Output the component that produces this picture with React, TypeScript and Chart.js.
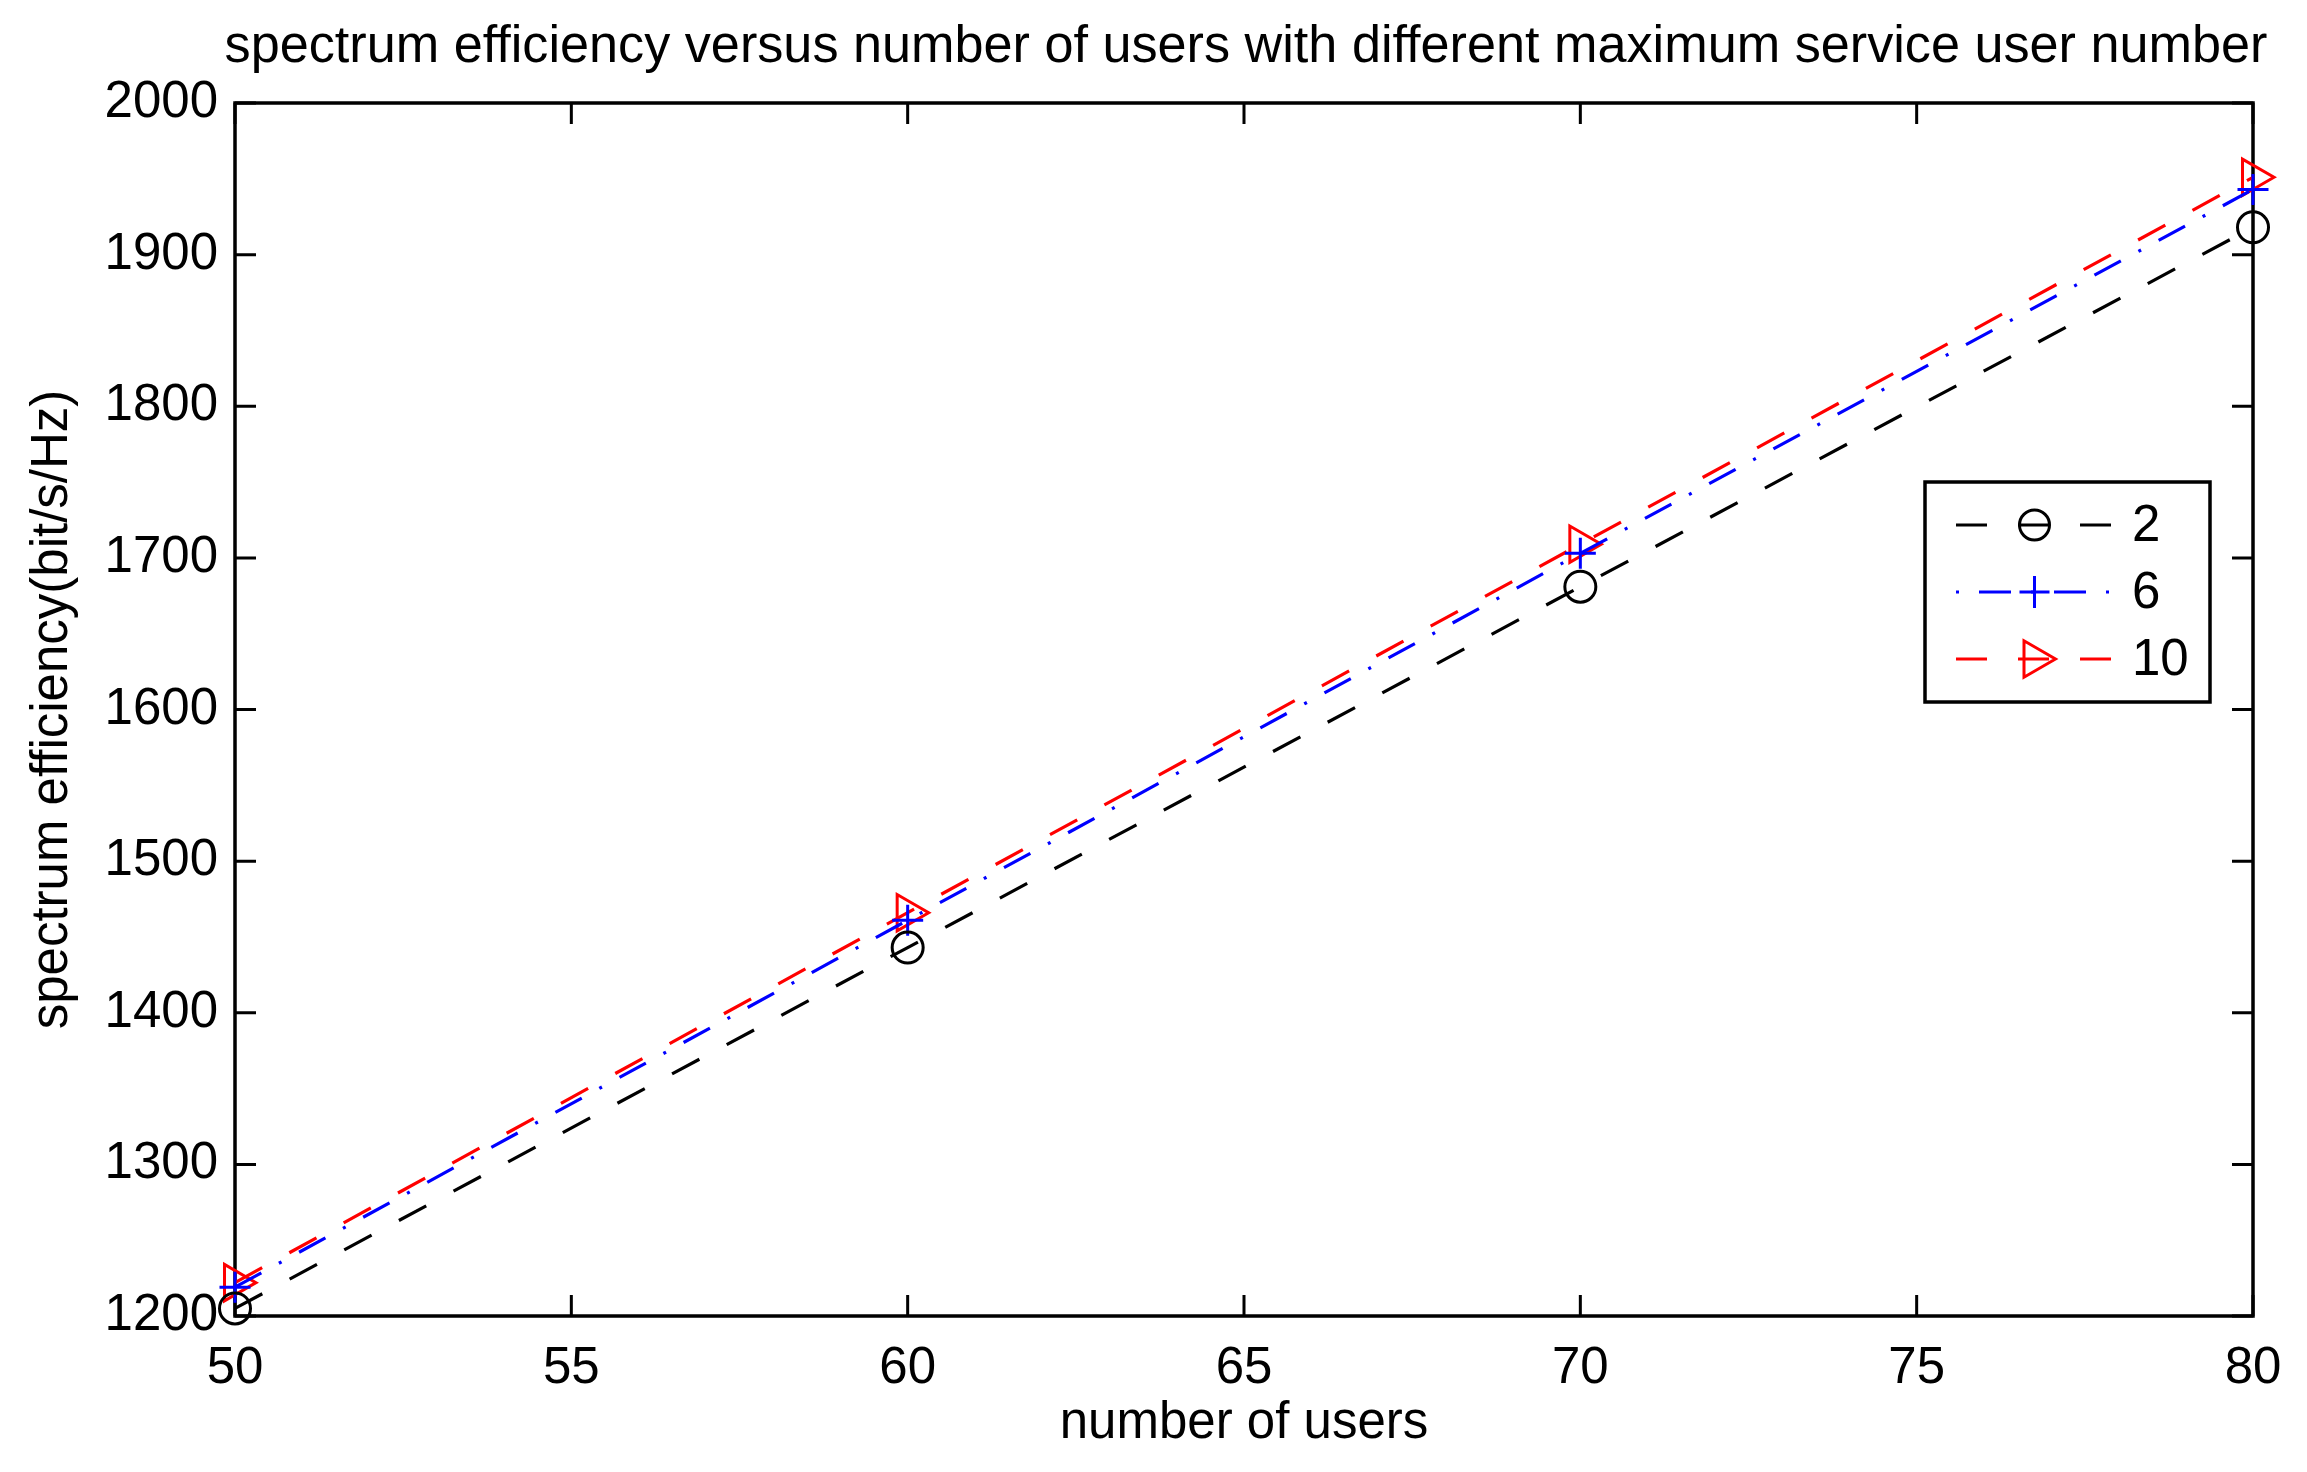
import React, { useEffect, useRef } from 'react';
import { Chart, registerables } from 'chart.js';

Chart.register(...registerables);

const users = [50, 60, 70, 80];
const seriesLabels = ['2', '6', '10'];
const se2 = [1205, 1443, 1681, 1918];
const se6 = [1219, 1461, 1703, 1943];
const se10 = [1222, 1466, 1709, 1951];
const xTicks = [50, 55, 60, 65, 70, 75, 80];
const yTicks = [1200, 1300, 1400, 1500, 1600, 1700, 1800, 1900, 2000];

const titleText = 'spectrum efficiency versus number of users with different maximum service user number';
const xTitle = 'number of users';
const yTitle = 'spectrum efficiency(bit/s/Hz)';

const FONT = '"Liberation Sans", Arial, Helvetica, sans-serif';
const W = 2307;
const H = 1472;

type Style = { color: string; dash: number[]; legendDash: number[]; marker: string };
const styles: Style[] = [
  { color: '#000000', dash: [31, 31], legendDash: [31, 31], marker: 'circle' },
  { color: '#0000ff', dash: [30, 20, 3, 20], legendDash: [3, 20, 32, 20], marker: 'cross' },
  { color: '#ff0000', dash: [31, 31], legendDash: [31, 31], marker: 'triangle' },
];

function drawMarker(ctx: CanvasRenderingContext2D, kind: string, x: number, y: number) {
  ctx.beginPath();
  if (kind === 'circle') {
    ctx.arc(x, y, 15, 0, Math.PI * 2);
  } else if (kind === 'cross') {
    ctx.moveTo(x - 15, y);
    ctx.lineTo(x + 15, y);
    ctx.moveTo(x, y - 16);
    ctx.lineTo(x, y + 16);
  } else {
    const r = 21;
    for (let i = 0; i < 3; i++) {
      const a = Math.PI / 2 + (i * 2 * Math.PI) / 3;
      const px = x + Math.sin(a) * r;
      const py = y - Math.cos(a) * r;
      if (i === 0) ctx.moveTo(px, py);
      else ctx.lineTo(px, py);
    }
    ctx.closePath();
  }
  ctx.stroke();
}

const titlePlugin = {
  id: 'matlabTitle',
  afterDraw(chart: any) {
    const { ctx, chartArea } = chart;
    ctx.save();
    ctx.fillStyle = '#000';
    ctx.font = `52.2px ${FONT}`;
    ctx.textAlign = 'center';
    ctx.textBaseline = 'middle';
    ctx.fillText(titleText, (chartArea.left + chartArea.right) / 2 + 2, 48);
    ctx.restore();
  },
};

const boxPlugin = {
  id: 'matlabBox',
  beforeDatasetsDraw(chart: any) {
    const { ctx, chartArea } = chart;
    const { left, right, top, bottom } = chartArea;
    const xs = chart.scales.x;
    const ys = chart.scales.y;
    ctx.save();
    ctx.setLineDash([]);
    ctx.strokeStyle = '#000';
    ctx.lineWidth = 3;
    const L = 21;
    ctx.beginPath();
    xs.ticks.forEach((t: any) => {
      const px = xs.getPixelForValue(t.value);
      ctx.moveTo(px, bottom);
      ctx.lineTo(px, bottom - L);
      ctx.moveTo(px, top);
      ctx.lineTo(px, top + L);
    });
    ys.ticks.forEach((t: any) => {
      const py = ys.getPixelForValue(t.value);
      ctx.moveTo(left, py);
      ctx.lineTo(left + L, py);
      ctx.moveTo(right, py);
      ctx.lineTo(right - L, py);
    });
    ctx.stroke();
    ctx.lineWidth = 3.5;
    ctx.strokeRect(left, top, right - left, bottom - top);
    ctx.restore();
  },
};

const legendPlugin = {
  id: 'matlabLegend',
  afterDatasetsDraw(chart: any) {
    const { ctx, chartArea } = chart;
    const bx = chartArea.right - 328;
    const by = chartArea.top + 379;
    const bw = 285;
    const bh = 220;
    ctx.save();
    ctx.fillStyle = '#fff';
    ctx.fillRect(bx, by, bw, bh);
    ctx.strokeStyle = '#000';
    ctx.lineWidth = 3.5;
    ctx.setLineDash([]);
    ctx.strokeRect(bx, by, bw, bh);
    seriesLabels.forEach((label, i) => {
      const st = styles[i];
      const ry = by + 43 + i * 67;
      const x0 = bx + 31;
      const x1 = bx + 188;
      ctx.strokeStyle = st.color;
      ctx.lineWidth = 3.2;
      ctx.setLineDash(st.legendDash);
      ctx.beginPath();
      ctx.moveTo(x0, ry);
      ctx.lineTo(x1, ry);
      ctx.stroke();
      ctx.setLineDash([]);
      ctx.lineWidth = 3;
      drawMarker(ctx, st.marker, (x0 + x1) / 2, ry);
      ctx.fillStyle = '#000';
      ctx.font = `51px ${FONT}`;
      ctx.textAlign = 'left';
      ctx.textBaseline = 'middle';
      ctx.fillText(label, bx + 207, ry + 2);
    });
    ctx.restore();
  },
};

export default function App() {
  const ref = useRef<HTMLCanvasElement | null>(null);

  useEffect(() => {
    document.body.style.margin = '0';
    const canvas = ref.current;
    if (!canvas) return;
    const series = [se2, se6, se10];
    const chart = new Chart(canvas, {
      type: 'line',
      data: {
        datasets: series.map((vals, i) => ({
          label: seriesLabels[i],
          data: users.map((u, k) => ({ x: u, y: vals[k] })),
          borderColor: styles[i].color,
          backgroundColor: 'transparent',
          borderWidth: 3.2,
          borderDash: styles[i].dash,
          pointStyle: styles[i].marker as any,
          pointRadius: styles[i].marker === 'triangle' ? 21 : 15.5,
          pointRotation: styles[i].marker === 'triangle' ? 90 : 0,
          pointBorderWidth: 3,
          pointBorderColor: styles[i].color,
          pointBackgroundColor: 'transparent',
          pointHoverRadius: 15,
          tension: 0,
          fill: false,
          clip: false as any,
        })),
      },
      options: {
        animation: false,
        responsive: false,
        devicePixelRatio: 1,
        events: [],
        layout: { padding: { left: 0, right: 54, top: 103, bottom: 0 } },
        plugins: {
          legend: { display: false },
          tooltip: { enabled: false },
          title: { display: false },
        },
        scales: {
          x: {
            type: 'linear',
            min: 50,
            max: 80,
            afterBuildTicks: (s: any) => {
              s.ticks = xTicks.map((v) => ({ value: v }));
            },
            afterFit: (s: any) => {
              s.height = 156;
            },
            grid: { display: false },
            border: { display: false },
            ticks: {
              color: '#000',
              padding: 14,
              maxRotation: 0,
              font: { family: FONT, size: 51 },
              callback: (v: any) => String(v),
            },
            title: {
              display: true,
              text: xTitle,
              color: '#000',
              font: { family: FONT, size: 51, lineHeight: 1.2 },
              padding: { top: 0, bottom: 17 },
            },
          },
          y: {
            type: 'linear',
            min: 1200,
            max: 2000,
            afterBuildTicks: (s: any) => {
              s.ticks = yTicks.map((v) => ({ value: v }));
            },
            afterFit: (s: any) => {
              s.width = 235;
            },
            grid: { display: false },
            border: { display: false },
            ticks: {
              color: '#000',
              padding: 9,
              font: { family: FONT, size: 51 },
              callback: (v: any) => String(v),
            },
            title: {
              display: true,
              text: yTitle,
              color: '#000',
              font: { family: FONT, size: 51, lineHeight: 1.2 },
              padding: { top: 22, bottom: 0 },
            },
          },
        },
      },
      plugins: [boxPlugin, legendPlugin, titlePlugin],
    });
    return () => chart.destroy();
  }, []);

  return (
    <div style={{ position: 'absolute', left: 0, top: 0, width: W, height: H, background: '#fff' }}>
      <canvas ref={ref} width={W} height={H} style={{ width: W, height: H, display: 'block' }} />
    </div>
  );
}
